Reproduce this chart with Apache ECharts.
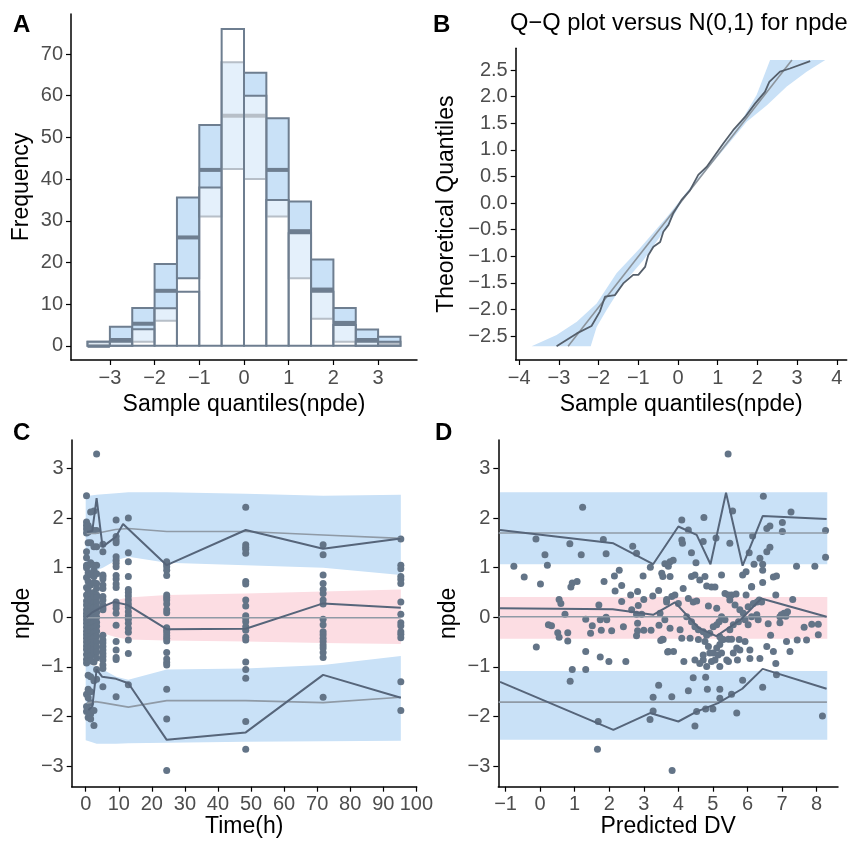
<!DOCTYPE html>
<html>
<head>
<meta charset="utf-8">
<script src="https://cdn.jsdelivr.net/npm/echarts@6/dist/echarts.min.js"></script>
<style>
  html, body { margin: 0; padding: 0; background: #fff; }
  #main { width: 848px; height: 841px; }
</style>
</head>
<body>
<div id="main"></div>
<script>
// ---- A: histogram of npde with simulated PI per bin ----
var binStarts = [-3.5, -3, -2.5, -2, -1.5, -1, -0.5, 0, 0.5, 1, 1.5, 2, 2.5, 3];
var binWidth = 0.5;
var histObs = [1, 1, 4, 9, 13, 38, 76, 60, 35, 27, 13, 5, 1, 1];
var histLow = [0, 0, 1, 6, 16.2, 31, 42.4, 40, 31, 16.2, 6.5, 1, 0, 0];
var histMed = [0, 1.4, 5.3, 13.2, 26, 42.2, 55.2, 55.2, 42.2, 27.5, 13.5, 5.5, 1.4, 0.5];
var histHigh = [1, 4.6, 9.1, 19.6, 35.6, 53, 68, 65.5, 54.6, 34.6, 20.7, 9.1, 3.9, 2.2];

// ---- B: Q-Q plot ----
var qqObs = [[-3.06,-2.69],[-2.55,-2.45],[-2.18,-2.31],[-1.97,-2.04],[-1.84,-1.76],[-1.59,-1.73],
  [-1.38,-1.51],[-1.13,-1.35],[-1.0,-1.35],[-0.83,-1.2],[-0.75,-0.98],[-0.62,-0.82],[-0.45,-0.73],
  [-0.37,-0.54],[-0.24,-0.41],[-0.12,-0.19],[0.09,0.06],[0.3,0.24],[0.51,0.53],[0.72,0.68],
  [0.93,0.9],[1.14,1.12],[1.39,1.37],[1.69,1.62],[1.94,1.87],[2.19,2.09],[2.3,2.28],[2.57,2.47],
  [2.82,2.53],[3.33,2.67]];
var qqRef = [[-2.77,-2.69],[2.87,2.69]];
var qqBandLeft = [[-3.69,-2.69],[-3.06,-2.48],[-2.55,-2.23],[-2.05,-1.89],[-1.55,-1.32],[-0.96,-0.85],
  [-0.28,-0.26],[0.39,0.37],[1.06,1.0],[1.56,1.5],[1.98,2.03],[2.32,2.69]];
var qqBandRight = [[3.71,2.69],[3.24,2.47],[2.74,2.19],[2.24,1.84],[1.73,1.53],[1.31,1.15],[0.72,0.62],
  [0.22,0.18],[-0.28,-0.45],[-0.87,-1.07],[-1.38,-1.51],[-1.8,-2.01],[-2.05,-2.33],[-2.2,-2.69]];

// ---- C: npde vs time ----
var timeCols = [0.25, 0.75, 1.5, 2.5, 3.3, 5.2, 9.2, 12.9, 24.5, 48.4, 71.8, 95.3];
var npdeCols = [
  [2.45,1.92,1.85,1.78,1.7,1.32,1.2,1.05,1.0,0.8,0.6,0.45,0.33,0.25,0.15,0.08,0.02,-0.05,-0.12,-0.2,-0.28,-0.35,-0.42,-0.5,-0.58,-0.65,-0.75,-0.85,-0.92,-1.55,-1.8,-1.9],
  [1.85,1.72,1.5,1.05,0.9,0.72,0.55,0.38,0.28,0.18,0.1,0.0,-0.08,-0.18,-0.26,-0.33,-0.4,-0.48,-0.55,-0.62,-0.7,-0.8,-0.88,-1.17,-1.45,-1.62,-1.85,-2.02],
  [2.12,1.78,1.5,1.1,0.85,0.65,0.48,0.35,0.22,0.12,0.05,-0.05,-0.15,-0.22,-0.3,-0.38,-0.45,-0.52,-0.6,-0.7,-0.78,-0.88,-1.2,-1.5,-1.72,-1.95,-2.05],
  [2.14,1.75,1.42,1.05,0.95,0.82,0.7,0.5,0.42,0.3,0.2,0.1,-0.02,-0.1,-0.2,-0.3,-0.4,-0.5,-0.58,-0.65,-0.72,-0.9,-1.28,-1.88,-2.18],
  [3.29,1.75,1.42,1.05,0.88,0.68,0.58,0.45,0.4,0.3,0.2,0.1,0.0,-0.1,-0.18,-0.28,-0.38,-0.5,-0.6,-0.7,-0.82,-1.05,-1.25],
  [1.47,1.32,0.85,0.82,0.77,0.65,0.58,0.42,0.35,0.25,0.19,0.15,-0.36,-0.46,-0.52,-0.59,-0.66,-0.73,-0.79,-0.86,-0.96,-1.03,-1.4],
  [1.96,1.63,1.56,1.5,1.22,1.15,1.09,1.02,0.84,0.77,0.67,0.6,0.31,0.25,0.18,0.08,-0.16,-0.49,-0.66,-0.81,-0.85,-1.6],
  [2.0,1.3,1.12,0.82,0.56,0.5,0.43,0.35,0.27,0.2,0.11,0.03,-0.04,-0.12,-0.22,-0.3,-0.46,-0.73,-1.36],
  [1.12,1.07,1.02,0.95,0.84,0.45,0.4,0.35,0.27,0.15,0.09,-0.21,-0.26,-0.31,-0.37,-0.42,-0.48,-0.71,-0.84,-0.91,-0.96,-1.45,-2.05,-3.09],
  [2.22,1.46,1.41,1.37,1.29,0.72,0.67,0.35,0.23,0.03,-0.02,-0.09,-0.19,-0.26,-0.4,-0.46,-0.9,-1.05,-1.23,-2.1,-2.66],
  [1.46,1.26,0.85,0.68,0.56,0.48,0.35,0.27,-0.04,-0.15,-0.29,-0.35,-0.42,-0.49,-0.56,-0.62,-0.71,-0.81,-1.61],
  [1.58,1.05,0.98,0.82,0.76,0.68,0.31,0.06,-0.11,-0.17,-0.29,-0.34,-0.41,-1.3,-1.88]
];
var cBandX = [0, 1, 3.3, 5.2, 9.2, 12.9, 24.5, 48.4, 71.8, 95.3];
var cUpHi = [2.45, 2.45, 2.47, 2.48, 2.5, 2.52, 2.52, 2.49, 2.45, 2.47];
var cUpLo = [0.95, 0.95, 0.95, 1.0, 1.15, 1.22, 1.1, 1.05, 1.0, 0.85];
var cMidHi = [0.15, 0.15, 0.2, 0.25, 0.35, 0.4, 0.45, 0.48, 0.52, 0.56];
var cMidLo = [-0.25, -0.25, -0.3, -0.32, -0.4, -0.45, -0.47, -0.49, -0.52, -0.54];
var cLowHi = [-0.95, -0.95, -1.0, -1.05, -1.2, -1.26, -1.05, -1.03, -0.96, -0.78];
var cLowLo = [-2.48, -2.5, -2.55, -2.55, -2.55, -2.54, -2.53, -2.51, -2.5, -2.49];
var cObsUp = [[0.4,1.72],[2,1.74],[3.3,2.4],[5.1,1.42],[9.1,1.62],[11.3,1.88],[24.5,1.05],[48.4,1.76],[71.8,1.38],[95.3,1.59]];
var cObsMid = [[0.3,0.0],[2,0.1],[5,0.21],[8.6,0.31],[12.6,0.25],[24.5,-0.24],[48.4,-0.23],[71.8,0.28],[95.3,0.19]];
var cObsLow = [[0.8,-1.87],[2,-1.8],[3.3,-1.05],[5,-1.2],[9.2,-1.24],[12.9,-1.33],[24.5,-2.47],[48.4,-2.32],[71.8,-1.16],[95.3,-1.62]];
var cThUp = [[0.3,1.69],[3,1.69],[9,1.77],[12.9,1.79],[24.5,1.73],[48.4,1.73],[71.8,1.66],[95.3,1.59]];
var cThMid = [[0.3,-0.01],[95.3,-0.01]];
var cThLow = [[0.3,-1.73],[3,-1.7],[5,-1.72],[12.9,-1.81],[24.5,-1.68],[48.4,-1.68],[71.8,-1.72],[95.3,-1.61]];

// ---- D: npde vs predicted DV ----
var predNpde = [
  [-0.76,1.03],[-0.46,0.81],[-0.12,1.58],[-0.11,-0.6],[0.01,0.67],[0.14,1.26],[0.21,1.05],[0.24,-0.15],
  [0.33,-0.17],[0.51,-0.31],[0.55,0.36],[0.6,0.28],[0.55,-0.4],[0.72,0.06],[0.8,-0.31],[0.8,-0.48],
  [0.86,1.48],[0.89,0.61],[0.93,0.69],[1.07,0.72],[0.93,-1.05],[0.87,-1.29],[1.23,2.22],[1.19,1.26],
  [1.32,-0.04],[1.32,-0.69],[1.32,-1.05],[1.46,-0.32],[1.51,-0.17],[1.68,-2.1],[1.66,-2.66],[1.7,0.25],
  [1.74,-0.05],[1.74,-0.8],[1.77,-0.26],[1.83,1.57],[1.85,0.72],[1.91,1.28],[1.91,0.0],[1.93,-0.05],
  [1.99,-0.89],[2.07,-0.27],[2.15,0.83],[2.17,0.53],[2.29,0.95],[2.36,0.64],[2.36,0.32],[2.41,-0.19],
  [2.48,-0.89],[2.62,0.45],[2.65,0.15],[2.68,1.43],[2.79,1.29],[2.82,0.52],[2.84,0.24],[2.79,0.06],
  [2.94,0.06],[2.82,-0.12],[2.82,-0.27],[2.79,-0.37],[2.98,0.83],[3.0,-0.26],[3.19,1.01],[3.0,0.36],
  [3.21,-0.26],[3.26,0.43],[3.43,0.54],[3.44,-0.16],[3.49,-0.47],[3.54,-0.44],[3.43,-1.37],[3.27,-1.61],
  [3.27,-1.89],[3.18,-2.06],[3.52,0.89],[3.55,0.82],[3.61,1.08],[3.66,0.31],[3.69,-0.7],
  [5.44,3.29],[6.46,2.44],[7.26,2.12],[5.57,2.14],[4.1,1.96],[4.74,2.01],[4.29,1.76],[4.72,1.53],
  [5.49,1.49],[5.09,1.6],[4.1,1.56],[4.12,1.49],[4.38,1.3],[4.51,1.1],[3.76,1.12],[3.85,1.15],
  [3.71,1.03],[6.15,1.64],[6.05,1.3],[5.96,0.92],[5.86,0.85],[6.56,1.79],[6.65,1.84],[7.01,1.91],
  [7.01,1.73],[8.26,1.75],[8.26,1.21],[7.42,1.03],[7.95,1.03],[8.17,-1.99],[6.36,1.19],[6.19,1.07],
  [6.44,1.07],[6.44,0.95],[6.56,1.32],[6.65,1.41],[6.12,0.62],[6.44,0.7],[6.75,0.81],[6.84,0.83],
  [6.41,0.31],[6.82,0.45],[6.94,-0.11],[7.16,0.11],[6.94,0.01],[7.11,0.02],[6.6,-0.13],[6.67,-0.36],
  [6.56,-0.59],[6.75,-0.69],[6.82,-0.93],[7.23,-0.69],[7.13,-0.49],[7.44,-0.46],[7.71,-0.46],[7.64,-0.2],
  [7.86,-0.14],[8.05,-0.14],[8.05,-0.35],[6.84,-1.16],[6.44,-1.41],[5.86,-1.27],[5.69,-1.93],[4.48,-2.19],
  [4.43,-1.22],[4.79,-1.21],[4.84,-1.45],[5.2,-1.45],[4.79,-1.85],[5.0,-1.85],[5.2,-1.63],[5.54,-1.55],
  [3.81,-1.6],[4.29,-1.48],[4.53,-1.9],[3.82,-3.09],[7.31,0.36],[7.06,0.08],[6.98,0.05],
  [3.76,0.82],[4.38,0.82],[4.48,0.85],[4.62,0.75],[4.77,0.82],[4.82,0.63],[4.96,0.61],[5.06,0.61],
  [5.25,0.85],[5.54,0.45],[5.67,0.47],[5.96,0.45],[6.12,0.61],
  [3.66,0.36],[3.81,0.42],[3.9,0.45],[4.0,0.28],[4.14,0.58],[4.29,0.38],[4.43,0.31],[4.53,0.33],
  [4.87,0.23],[5.11,0.18],[5.35,0.48],[5.45,0.45],[5.49,0.35],[5.64,0.25],[5.78,0.15],[5.88,0.08],
  [6.02,0.21],[6.17,0.28],[6.28,0.31],[6.34,0.35],
  [3.47,0.08],[3.61,-0.05],[3.76,-0.22],[4.05,-0.25],[4.24,0.01],[4.38,-0.09],[4.48,-0.19],[4.58,-0.25],
  [4.72,-0.29],[4.82,-0.36],[4.91,-0.32],[5.01,-0.19],[5.11,-0.15],[5.18,-0.09],[5.25,0.01],[5.35,-0.05],
  [5.49,-0.25],[5.59,-0.15],[5.74,-0.09],[5.93,-0.05],[6.02,-0.15],[6.12,0.01],[6.27,0.05],[6.31,-0.05],
  [5.2,-0.39],[5.3,-0.45],[5.45,-0.44],[5.54,-0.44],[5.76,-0.45],[5.93,-0.49],
  [3.56,-0.45],[3.71,-0.69],[3.86,-0.69],[4.1,-0.42],[4.34,-0.42],[4.58,-0.45],[4.77,-0.49],[4.87,-0.59],
  [4.91,-0.72],[5.01,-0.72],[5.11,-0.62],[5.2,-0.55],[5.25,-0.45],[5.15,-0.76],[5.06,-0.86],[4.96,-0.89],
  [4.72,-0.86],[4.62,-0.93],[4.48,-0.86],[4.16,-0.89],[4.72,-0.76],[5.25,-0.72],[5.4,-0.86],[5.45,-0.89],
  [5.59,-0.72],[5.69,-0.62],[5.71,-0.86],[5.78,-0.66],[6.07,-0.66],[6.07,-0.83],[6.36,-0.83],[5.2,-0.99],[4.82,-0.99]
];
var dBandX = [-1.16, 8.31];
var dUp = [1.07, 2.52];
var dMid = [-0.43, 0.41];
var dLow = [-2.47, -1.08];
var dObsUp = [[-1.16,1.76],[2.12,1.49],[3.27,1.07],[4.0,1.83],[4.53,1.66],[4.93,1.07],[5.38,2.51],[5.86,1.04],[6.44,2.04],[8.29,1.98]];
var dObsMid = [[-1.16,0.18],[2.1,0.16],[3.27,0.05],[3.9,0.3],[4.6,-0.22],[5.1,-0.38],[5.8,-0.05],[6.4,0.38],[8.29,0.01]];
var dObsLow = [[-1.16,-1.3],[2.12,-2.27],[3.18,-1.93],[4.0,-2.1],[4.53,-1.9],[5.15,-1.73],[5.85,-1.44],[6.44,-1.04],[8.29,-1.44]];
var dThUp = [[-1.2,1.7],[8.3,1.7]];
var dThMid = [[-1.2,0.01],[8.3,0.01]];
var dThLow = [[-1.2,-1.71],[8.3,-1.71]];

var FONT = 'Liberation Sans';
var EDGE = '#6e7e90';
var BLUE = '#c9e1f7';
var PINK = '#fcdde3';
var DOT = '#637487';
var DARK = '#56657a';
var THEO = '#8f9aa6';

function minusFmt(dec) {
  return function (v) {
    var s = Math.abs(v).toFixed(dec);
    return (v < 0 ? '\u2212' : '') + s;
  };
}

function range(a, b, step) {
  var out = [];
  for (var v = a; v <= b + 1e-9; v += step) out.push(Math.round(v * 100) / 100);
  return out;
}

function axis(idx, min, max, ticks, dec, name, gap) {
  return {
    type: 'value', gridIndex: idx, min: min, max: max,
    name: name, nameLocation: 'middle', nameGap: gap, nameMoveOverlap: false,
    nameTextStyle: { fontSize: 23, color: '#000', fontFamily: FONT },
    axisLine: { show: true, onZero: false, lineStyle: { color: '#000', width: 1.5 } },
    axisTick: { show: true, length: 5, customValues: ticks, lineStyle: { color: '#000', width: 1.2 } },
    axisLabel: { customValues: ticks, formatter: minusFmt(dec), color: '#4d4d4d', fontSize: 20, fontFamily: FONT, margin: 8 },
    splitLine: { show: false }
  };
}

function band(idx, pts, color) {
  return {
    type: 'custom', xAxisIndex: idx, yAxisIndex: idx, silent: true, z: 1,
    data: [pts[0]],
    renderItem: function (params, api) {
      return {
        type: 'polygon',
        shape: { points: pts.map(function (p) { return api.coord(p); }) },
        style: { fill: color }
      };
    }
  };
}

function bandFrom(idx, xs, lo, hi, color) {
  var top = xs.map(function (x, i) { return [x, hi[i]]; });
  var bot = xs.map(function (x, i) { return [x, lo[i]]; }).reverse();
  return band(idx, top.concat(bot), color);
}

function line(idx, data, color, width, z) {
  return {
    type: 'line', xAxisIndex: idx, yAxisIndex: idx, data: data, showSymbol: false, silent: true,
    lineStyle: { color: color, width: width }, z: z
  };
}

var piData = binStarts.map(function (b, i) { return [b, histLow[i], histMed[i], histHigh[i]]; });
var obsData = binStarts.map(function (b, i) { return [b, histObs[i]]; });

var scatterC = [];
timeCols.forEach(function (t, i) {
  npdeCols[i].forEach(function (v) { scatterC.push([t, v]); });
});

var chart = echarts.init(document.getElementById('main'));

var option = {
  backgroundColor: '#fff',
  animation: false,
  title: [
    { text: 'A', left: 13, top: 13, padding: 0, textStyle: { fontSize: 24, fontWeight: 'bold', color: '#000', fontFamily: FONT } },
    { text: 'B', left: 433, top: 13, padding: 0, textStyle: { fontSize: 24, fontWeight: 'bold', color: '#000', fontFamily: FONT } },
    { text: 'Q\u2212Q plot versus N(0,1) for npde', left: 510, top: 11, padding: 0, textStyle: { fontSize: 23.7, fontWeight: 'normal', color: '#000', fontFamily: FONT } },
    { text: 'C', left: 13, top: 421, padding: 0, textStyle: { fontSize: 24, fontWeight: 'bold', color: '#000', fontFamily: FONT } },
    { text: 'D', left: 435, top: 421, padding: 0, textStyle: { fontSize: 24, fontWeight: 'bold', color: '#000', fontFamily: FONT } }
  ],
  grid: [
    { left: 71, top: 14, width: 346, height: 346, containLabel: false, outerBoundsMode: 'none' },
    { left: 515.7, top: 48.3, width: 331, height: 311.7, containLabel: false, outerBoundsMode: 'none' },
    { left: 71.7, top: 440, width: 345, height: 346.7, containLabel: false, outerBoundsMode: 'none' },
    { left: 498.3, top: 440, width: 339.7, height: 346.7, containLabel: false, outerBoundsMode: 'none' }
  ],
  xAxis: [
    axis(0, -3.87, 3.87, range(-3, 3, 1), 0, 'Sample quantiles(npde)', 33),
    axis(1, -4.09, 4.25, range(-4, 4, 1), 0, 'Sample quantiles(npde)', 33),
    axis(2, -4.23, 100.1, range(0, 100, 10), 0, 'Time(h)', 28),
    axis(3, -1.21, 8.62, range(-1, 8, 1), 0, 'Predicted DV', 28)
  ],
  yAxis: [
    axis(0, -3.4, 79.6, range(0, 70, 10), 0, 'Frequency', 38),
    axis(1, -2.95, 2.91, range(-2.5, 2.5, 0.5), 1, 'Theoretical Quantiles', 58),
    axis(2, -3.414, 3.573, range(-3, 3, 1), 0, 'npde', 38),
    axis(3, -3.414, 3.573, range(-3, 3, 1), 0, 'npde', 38)
  ],
  series: [
    // A: prediction-interval boxes with median
    {
      type: 'custom', xAxisIndex: 0, yAxisIndex: 0, silent: true, z: 2,
      data: piData, encode: { x: 0, y: 3 },
      renderItem: function (params, api) {
        var x0 = api.value(0), x1 = x0 + binWidth;
        var tl = api.coord([x0, api.value(3)]);
        var br = api.coord([x1, api.value(1)]);
        var m0 = api.coord([x0, api.value(2)]);
        var m1 = api.coord([x1, api.value(2)]);
        return {
          type: 'group',
          children: [
            { type: 'rect', shape: { x: tl[0], y: tl[1], width: br[0] - tl[0], height: br[1] - tl[1] },
              style: { fill: BLUE, stroke: EDGE, lineWidth: 2 } },
            { type: 'line', shape: { x1: m0[0], y1: m0[1], x2: m1[0], y2: m1[1] },
              style: { stroke: EDGE, lineWidth: 4 } }
          ]
        };
      }
    },
    // A: observed histogram bars
    {
      type: 'custom', xAxisIndex: 0, yAxisIndex: 0, silent: true, z: 3,
      data: obsData, encode: { x: 0, y: 1 },
      renderItem: function (params, api) {
        var x0 = api.value(0), x1 = x0 + binWidth;
        var tl = api.coord([x0, api.value(1)]);
        var br = api.coord([x1, 0]);
        return {
          type: 'rect', shape: { x: tl[0], y: tl[1], width: br[0] - tl[0], height: br[1] - tl[1] },
          style: { fill: 'rgba(255,255,255,0.5)', stroke: EDGE, lineWidth: 2 }
        };
      }
    },
    // B
    band(1, qqBandLeft.concat(qqBandRight), BLUE),
    line(1, qqRef, '#8c949c', 1.6, 3),
    line(1, qqObs, '#555f6b', 1.8, 4),
    // C
    bandFrom(2, cBandX, cUpLo, cUpHi, BLUE),
    bandFrom(2, cBandX, cMidLo, cMidHi, PINK),
    bandFrom(2, cBandX, cLowLo, cLowHi, BLUE),
    {
      type: 'scatter', xAxisIndex: 2, yAxisIndex: 2, data: scatterC, symbolSize: 7, silent: true, z: 3,
      itemStyle: { color: DOT, opacity: 1 }
    },
    line(2, cThUp, THEO, 1.6, 4),
    line(2, cThMid, THEO, 1.6, 4),
    line(2, cThLow, THEO, 1.6, 4),
    line(2, cObsUp, DARK, 2, 5),
    line(2, cObsMid, DARK, 2, 5),
    line(2, cObsLow, DARK, 2, 5),
    // D
    bandFrom(3, dBandX, [dUp[0], dUp[0]], [dUp[1], dUp[1]], BLUE),
    bandFrom(3, dBandX, [dMid[0], dMid[0]], [dMid[1], dMid[1]], PINK),
    bandFrom(3, dBandX, [dLow[0], dLow[0]], [dLow[1], dLow[1]], BLUE),
    {
      type: 'scatter', xAxisIndex: 3, yAxisIndex: 3, data: predNpde, symbolSize: 7, silent: true, z: 3,
      itemStyle: { color: DOT, opacity: 1 }
    },
    line(3, dThUp, THEO, 1.6, 4),
    line(3, dThMid, THEO, 1.6, 4),
    line(3, dThLow, THEO, 1.6, 4),
    line(3, dObsUp, DARK, 2, 5),
    line(3, dObsMid, DARK, 2, 5),
    line(3, dObsLow, DARK, 2, 5)
  ]
};

chart.setOption(option);
</script>
</body>
</html>
